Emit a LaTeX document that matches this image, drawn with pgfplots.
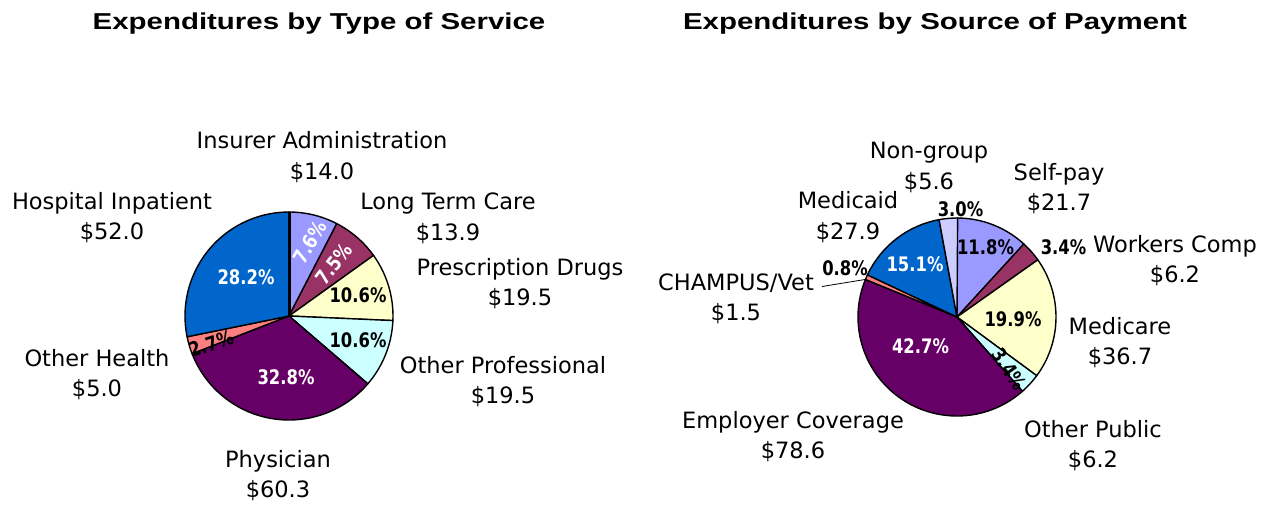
\documentclass[border=0pt]{standalone}
\usepackage{fontspec}
\setmainfont{DejaVu Sans}
\newfontfamily\titlefont{Liberation Sans}[FakeStretch=1.28]
\newfontfamily\pctfont{DejaVu Sans}[FakeStretch=0.82]
\usepackage{pgfplots}
\pgfplotsset{compat=1.18}

\definecolor{pLav}{HTML}{9999FF}
\definecolor{pMar}{HTML}{993366}
\definecolor{pYel}{HTML}{FFFFCC}
\definecolor{pCya}{HTML}{CCFFFF}
\definecolor{pPur}{HTML}{660066}
\definecolor{pSal}{HTML}{FF8080}
\definecolor{pBlu}{HTML}{0066CC}
\definecolor{pLil}{HTML}{CCCCFF}

\newcommand\labfont{\fontsize{22.5}{27}\selectfont}
\newcommand\pctb{\pctfont\bfseries\fontsize{20}{22}\selectfont}
\newcommand\ttl{\titlefont\bfseries\fontsize{23}{26}\selectfont}

% two-line label: x, baseline y, name, amount
\newcommand\lab[4]{%
  \node[anchor=base, font=\labfont] at (axis cs:#1,#2) {#3};
  \node[anchor=base, font=\labfont] at (axis cs:#1,#2+30.5) {#4};}

% pie: cx, cy, radius, list of percent/colour (clockwise from the top)
\newcommand\pie[4]{%
  \gdef\pstart{90}%
  \foreach \v/\c in {#4} {%
    \pgfmathsetmacro\pend{\pstart-3.6*\v}%
    \edef\temp{\noexpand\filldraw[fill=\c, draw=black, line width=1.4pt, line join=round]
      (axis cs:#1,#2) -- ++(\pstart:#3pt) arc[start angle=\pstart, end angle=\pend, radius=#3pt] -- cycle;}%
    \temp
    \xdef\pstart{\pend}%
  }}

\begin{document}
\begin{tikzpicture}
\begin{axis}[hide axis, x=1pt, y=1pt, xmin=0, xmax=1267, ymin=0, ymax=502,
  y dir=reverse, clip=false]
\path (axis cs:0,0) rectangle (axis cs:1267,502);

% titles
\node[anchor=base, font=\ttl] at (axis cs:319,29) {Expenditures by Type of Service};
\node[anchor=base, font=\ttl] at (axis cs:935,29) {Expenditures by Source of Payment};

% left pie: type of service
\pie{289}{316}{104}{7.6/pLav, 7.5/pMar, 10.6/pYel, 10.6/pCya, 32.8/pPur, 2.7/pSal, 28.2/pBlu}
\draw[line width=3pt] (axis cs:289,316) -- ++(90:104pt);

\node[anchor=base, font=\pctb, white] at (axis cs:246,284) {28.2\%};
\node[anchor=base, font=\pctb] at (axis cs:358,302) {10.6\%};
\node[anchor=base, font=\pctb] at (axis cs:358,347) {10.6\%};
\node[anchor=base, font=\pctb, white] at (axis cs:286,384) {32.8\%};
\node[font=\pctb, white, rotate=60, inner sep=0pt] at (axis cs:310,242) {7.6\%};
\node[font=\pctb, white, rotate=52, inner sep=0pt] at (axis cs:334,264) {7.5\%};
\node[font=\pctb, rotate=18, inner sep=0pt] at (axis cs:211,344) {2.7\%};

\lab{322}{148.5}{Insurer Administration}{\$14.0}
\lab{448}{209.5}{Long Term Care}{\$13.9}
\lab{112}{209.3}{Hospital Inpatient}{\$52.0}
\lab{520}{275}{Prescription Drugs}{\$19.5}
\lab{97}{366}{Other Health}{\$5.0}
\lab{503}{373}{Other Professional}{\$19.5}
\lab{278}{467}{Physician}{\$60.3}

% right pie: source of payment
\pie{957}{317}{99}{11.8/pLav, 3.4/pMar, 19.9/pYel, 3.4/pCya, 42.7/pPur, 0.8/pSal, 15.1/pBlu, 3.0/pLil}

\node[anchor=base, font=\pctb] at (axis cs:985.5,254) {11.8\%};
\node[anchor=base, font=\pctb, white] at (axis cs:915,271.7) {15.1\%};
\node[anchor=base, font=\pctb] at (axis cs:1013,326.7) {19.9\%};
\node[anchor=base, font=\pctb, white] at (axis cs:920.5,353.3) {42.7\%};
\node[font=\pctb, rotate=-55, inner sep=0pt] at (axis cs:1009,369) {3.4\%};
\node[anchor=base, font=\pctb] at (axis cs:1063.5,254) {3.4\%};
\node[anchor=base, font=\pctb] at (axis cs:960.5,216) {3.0\%};
\node[anchor=base, font=\pctb] at (axis cs:845,275) {0.8\%};
\draw[line width=0.8pt] (axis cs:822,286.5) -- (axis cs:865,279.5);

\lab{929}{158.5}{Non-group}{\$5.6}
\lab{1059}{180}{Self-pay}{\$21.7}
\lab{848}{208.5}{Medicaid}{\$27.9}
\lab{1175}{252}{Workers Comp}{\$6.2}
\lab{736}{290}{CHAMPUS/Vet}{\$1.5}
\lab{1120}{334}{Medicare}{\$36.7}
\lab{793}{428}{Employer Coverage}{\$78.6}
\lab{1093}{437}{Other Public}{\$6.2}
\end{axis}
\end{tikzpicture}
\end{document}
